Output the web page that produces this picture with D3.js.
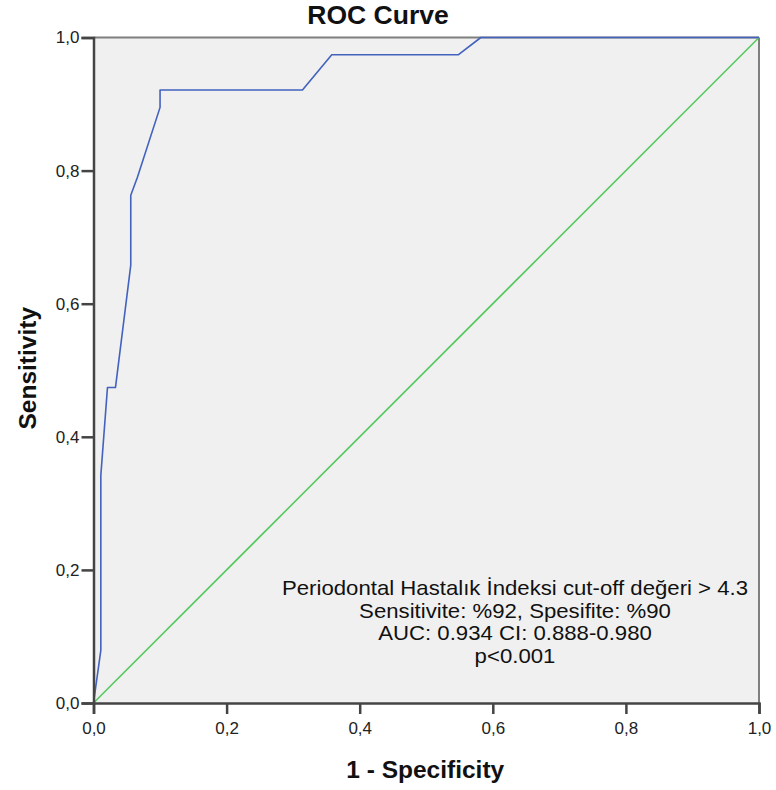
<!DOCTYPE html>
<html>
<head>
<meta charset="utf-8">
<script src="https://cdn.jsdelivr.net/npm/d3@7"></script>
<style>
  html, body { margin: 0; padding: 0; background: #ffffff; }
  svg { display: block; }
</style>
</head>
<body>
<svg id="chart" width="776" height="790"></svg>
<script>
// ---- data ----
const fpr = [0, 0.011, 0.011, 0.021, 0.033, 0.056, 0.056, 0.066, 0.100, 0.100, 0.314, 0.358, 0.548, 0.582, 1.0];
const tpr = [0, 0.079, 0.342, 0.474, 0.474, 0.658, 0.763, 0.790, 0.895, 0.921, 0.921, 0.974, 0.974, 1.0, 1.0];
const refX = [0, 1];
const refY = [0, 1];
const tickValues = [0, 0.2, 0.4, 0.6, 0.8, 1.0];
const tickLabels = ["0,0", "0,2", "0,4", "0,6", "0,8", "1,0"];
const titleText = "ROC Curve";
const xLabel = "1 - Specificity";
const yLabel = "Sensitivity";
const noteLines = [
  "Periodontal Hastalık İndeksi cut-off değeri > 4.3",
  "Sensitivite: %92, Spesifite: %90",
  "AUC: 0.934 CI: 0.888-0.980",
  "p<0.001"
];

// ---- layout ----
const svg = d3.select("#chart");
const mLeft = 93.5, mRight = 759, mTop = 37.5, mBottom = 703;
const font = "'Liberation Sans', Arial, sans-serif";

const x = d3.scaleLinear().domain([0, 1]).range([mLeft, mRight]);
const y = d3.scaleLinear().domain([0, 1]).range([mBottom, mTop]);

// plot background
svg.append("rect")
  .attr("x", x(0)).attr("y", y(1))
  .attr("width", x(1) - x(0)).attr("height", y(0) - y(1))
  .attr("fill", "#f0f0f0");

// frame (top & right)
svg.append("line").attr("x1", x(0)).attr("x2", x(1)).attr("y1", y(1)).attr("y2", y(1))
  .attr("stroke", "#7f7f7f").attr("stroke-width", 2);
svg.append("line").attr("x1", x(1)).attr("x2", x(1)).attr("y1", y(0)).attr("y2", y(1))
  .attr("stroke", "#7f7f7f").attr("stroke-width", 2);

// reference diagonal
const line = d3.line().x(d => x(d[0])).y(d => y(d[1]));
svg.append("path")
  .datum(refX.map((v, i) => [v, refY[i]]))
  .attr("d", line)
  .attr("fill", "none").attr("stroke", "#55c95e").attr("stroke-width", 1.6);

// ROC curve
svg.append("path")
  .datum(fpr.map((v, i) => [v, tpr[i]]))
  .attr("d", line)
  .attr("fill", "none").attr("stroke", "#4262be").attr("stroke-width", 1.6)
  .attr("stroke-linejoin", "round");

// axes
const xAxis = d3.axisBottom(x).tickValues(tickValues)
  .tickFormat((d, i) => tickLabels[i]).tickSize(11).tickPadding(8);
const yAxis = d3.axisLeft(y).tickValues(tickValues)
  .tickFormat((d, i) => tickLabels[i]).tickSize(12).tickPadding(2);

const gx = svg.append("g").attr("transform", `translate(0,${mBottom})`).call(xAxis);
const gy = svg.append("g").attr("transform", `translate(${mLeft},0)`).call(yAxis);

[gx, gy].forEach(g => {
  g.select(".domain").attr("stroke", "#444").attr("stroke-width", 2.5);
  g.selectAll(".tick line").attr("stroke", "#444").attr("stroke-width", 2.5);
  g.selectAll(".tick text").attr("fill", "#222")
    .style("font-family", font).style("font-size", "17px");
});

// title
svg.append("text")
  .attr("x", 378).attr("y", 24)
  .attr("text-anchor", "middle")
  .style("font-family", font).style("font-weight", "bold").style("font-size", "26.5px")
  .attr("fill", "#111")
  .text(titleText);

// axis labels
svg.append("text")
  .attr("x", (mLeft + mRight) / 2 - 1).attr("y", 777.5)
  .attr("text-anchor", "middle")
  .style("font-family", font).style("font-weight", "bold").style("font-size", "24.5px")
  .attr("fill", "#111")
  .text(xLabel);

svg.append("text")
  .attr("transform", `translate(36,${(mTop + mBottom) / 2 - 2}) rotate(-90)`)
  .attr("text-anchor", "middle")
  .style("font-family", font).style("font-weight", "bold").style("font-size", "24.5px")
  .attr("fill", "#111")
  .text(yLabel);

// annotation (slightly widened glyphs, like the reference rendering)
const noteG = svg.append("g")
  .attr("transform", "translate(515,0) scale(1.12,1)");
noteG.selectAll("text")
  .data(noteLines)
  .join("text")
  .attr("x", 0)
  .attr("y", (d, i) => 595.5 + i * 22.4)
  .attr("text-anchor", "middle")
  .style("font-family", font).style("font-size", "19.8px")
  .attr("fill", "#111")
  .text(d => d);
</script>
</body>
</html>
